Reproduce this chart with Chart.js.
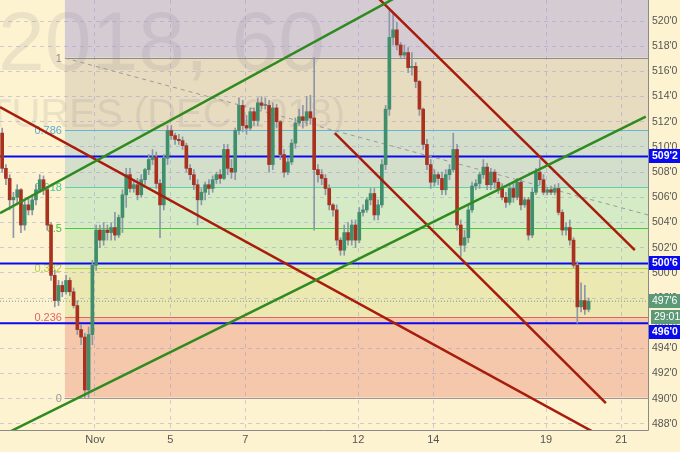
<!DOCTYPE html>
<html>
<head>
<meta charset="utf-8">
<script src="https://cdn.jsdelivr.net/npm/chart.js@4.4.1/dist/chart.umd.min.js"></script>
<style>
  html, body { margin: 0; padding: 0; background: #fdf3d0; }
  #wrap { width: 680px; height: 452px; }
</style>
</head>
<body>
<div id="wrap"><canvas id="c" width="680" height="452"></canvas></div>
<script>
// ---- dati: candele orarie (prezzi in cents) ----
const opens = [
  511.1,508.3,507.5,505.8,506.0,506.6,503.8,505.4,505.0,505.8,
  506.6,507.4,506.6,503.8,499.8,497.8,499.0,498.5,499.4,498.5,
  497.4,495.5,494.9,490.7,495.1,500.6,503.4,502.6,503.4,503.2,
  503.6,503.0,504.4,506.2,507.8,506.7,507.0,506.2,507.4,508.2,
  509.0,509.2,507.1,505.4,509.1,511.3,510.9,510.6,510.5,510.1,
  508.3,507.8,507.0,505.8,506.4,507.0,506.7,507.4,507.8,507.5,
  509.8,508.3,508.0,511.3,513.3,511.7,511.5,512.8,512.1,513.5,
  513.3,513.3,508.6,513.1,512.0,509.4,508.0,508.8,510.3,511.9,
  512.4,512.1,512.8,512.3,508.2,507.8,507.5,506.7,505.4,505.0,
  502.6,501.8,503.2,502.6,503.8,502.6,504.8,505.0,505.8,506.3,
  504.6,505.4,508.6,513.0,518.7,519.3,518.1,517.3,517.5,516.3,
  516.4,515.2,513.0,510.2,508.6,507.2,507.8,507.5,506.6,507.8,
  508.2,509.8,503.8,502.2,502.8,505.0,506.9,507.1,507.8,508.4,
  507.0,508.0,507.2,506.7,506.0,505.6,506.7,506.0,507.2,505.4,
  505.8,503.0,506.4,508.0,507.4,506.4,506.6,506.4,506.7,504.8,
  503.4,503.6,502.6,500.6,497.3,497.8,497.1
];
const highs = [
  511.5,508.6,507.8,506.4,507.0,506.7,505.8,506.0,506.2,507.0,
  507.8,507.7,506.7,504.0,500.2,499.4,499.3,499.8,499.6,498.8,
  497.8,495.9,495.2,495.7,501.0,503.8,503.8,504.0,503.8,504.0,
  504.8,504.6,506.6,508.3,508.3,507.4,507.5,507.8,508.3,509.4,
  509.8,509.6,507.4,509.4,511.7,511.7,511.1,511.0,510.8,510.3,
  508.6,508.2,507.4,506.7,507.2,507.4,507.7,508.0,508.2,510.2,
  510.2,509.0,511.5,513.9,513.7,512.5,513.1,513.1,513.9,514.0,
  513.9,513.7,513.5,513.4,512.1,509.8,509.1,510.6,512.3,513.0,
  513.3,514.0,514.1,517.1,508.6,508.2,507.8,507.0,505.5,505.4,
  502.8,503.8,504.0,504.2,504.2,505.2,505.4,506.0,506.7,506.7,
  505.8,509.0,513.3,520.9,520.7,519.9,518.3,518.1,517.9,517.5,
  516.7,515.3,513.1,510.6,509.0,508.2,508.0,508.0,508.2,508.6,
  511.1,510.2,504.2,503.4,505.4,507.2,507.4,508.0,509.0,508.7,
  508.3,508.2,507.5,507.1,506.4,507.0,507.1,507.5,507.4,506.0,
  506.0,506.7,508.3,509.0,507.8,506.8,506.9,507.0,507.1,505.0,
  504.0,504.2,502.8,500.9,499.2,499.0,498.0
];
const lows = [
  508.0,507.0,505.0,502.8,505.4,503.2,503.4,504.6,504.6,505.4,
  506.4,506.2,503.4,499.4,497.3,497.4,498.1,498.3,498.2,497.2,
  495.1,494.3,490.1,490.1,494.3,500.2,502.0,502.2,502.6,502.6,
  502.6,502.8,503.2,505.2,506.4,506.4,505.8,506.0,507.0,507.8,
  508.6,506.7,502.8,505.0,508.6,510.6,510.2,510.2,509.8,508.0,
  507.4,506.6,503.8,505.4,505.8,506.2,506.4,507.1,507.1,507.4,
  507.8,507.5,507.4,511.0,511.2,511.0,511.3,511.7,511.7,513.0,
  513.0,508.0,508.2,511.5,509.0,507.6,507.8,508.6,509.9,511.7,
  511.5,511.7,511.8,503.4,507.2,507.0,506.2,505.0,504.5,502.2,
  501.4,501.4,502.2,502.2,502.0,502.4,504.5,504.8,505.4,504.2,
  504.2,505.2,508.2,512.5,518.1,517.7,517.1,517.1,515.9,515.7,
  514.7,512.5,509.8,508.2,506.7,506.9,507.0,506.2,506.2,507.4,
  508.0,503.4,501.3,501.7,502.4,504.8,506.6,506.7,507.5,506.6,
  506.6,506.7,506.3,505.8,505.2,505.4,505.6,505.8,505.0,505.2,
  502.6,502.8,506.2,507.0,506.2,506.2,506.2,506.2,504.6,503.0,
  503.0,502.2,500.4,496.0,496.9,496.7,496.9
];
const closes = [
  508.3,507.5,505.8,506.0,506.6,503.8,505.4,505.0,505.8,506.6,
  507.4,506.6,503.8,499.8,497.8,499.0,498.5,499.4,498.5,497.4,
  495.5,494.9,490.7,495.1,500.6,503.4,502.6,503.4,503.2,503.6,
  503.0,504.4,506.2,507.8,506.7,507.0,506.2,507.4,508.2,509.0,
  509.2,507.1,505.4,509.1,511.3,510.9,510.6,510.5,510.1,508.3,
  507.8,507.0,505.8,506.4,507.0,506.7,507.4,507.8,507.5,509.8,
  508.3,508.0,511.3,513.3,511.7,511.5,512.8,512.1,513.5,513.3,
  513.3,508.6,513.1,512.0,509.4,508.0,508.8,510.3,511.9,512.4,
  512.1,512.8,512.3,508.2,507.8,507.5,506.7,505.4,505.0,502.6,
  501.8,503.2,502.6,503.8,502.6,504.8,505.0,505.8,506.3,504.6,
  505.4,508.6,513.0,518.7,519.3,518.1,517.3,517.5,516.3,516.4,
  515.2,513.0,510.2,508.6,507.2,507.8,507.5,506.6,507.8,508.2,
  509.8,503.8,502.2,502.8,505.0,506.9,507.1,507.8,508.4,507.0,
  508.0,507.2,506.7,506.0,505.6,506.7,506.0,507.2,505.4,505.8,
  503.0,506.4,508.0,507.4,506.4,506.6,506.4,506.7,504.8,503.4,
  503.6,502.6,500.6,497.3,497.8,497.1,497.75
];

// asse tempo in giorni di contrattazione (0 = 1 Nov)
const FIRST_BAR = -2.47, BARS_PER_DAY = 10;
const dayTicks  = [0, 2, 4, 7, 9, 12, 14];
const dayLabels = ['Nov', '5', '7', '12', '14', '19', '21'];
const X_MIN = -2.527, X_MAX = 14.71, Y_MIN = 487.52, Y_MAX = 521.67;

// Fibonacci (minimo / massimo)
const FIB_START = -0.8, fibLow = 490.1, fibHigh = 517.1;
const fibRatios = [0, 0.236, 0.382, 0.5, 0.618, 0.786, 1, 1.618];
const fibText   = ['0', '0.236', '0.382', '0.5', '0.618', '0.786', '1', ''];

// livelli orizzontali e prezzo corrente
const levels = [509.25, 500.75, 496.0];
const lastPrice = 497.75, countdown = '29:01';

// trendline: [giorno, prezzo] -> [giorno, prezzo]
const greenLines = [
  [[-2.527, 504.75], [8.11, 522.04]],
  [[-2.527, 487.0], [14.65, 512.4]]
];
const redLines = [
  [[-2.527, 513.17], [13.43, 487.08]],
  [[7.45, 522.07], [14.36, 501.81]],
  [[6.38, 511.1], [13.59, 489.66]]
];
const fibDiag = [[-0.8, 517.06], [14.71, 504.6]];

const WM1 = '2018, 60', WM2 = 'FUTURES (DEC 2018)';

// ---- stile ----
const BG = '#fdf3d0', BLUE = '#0a0aee', GREEN_BOX = '#5c9a77';
const zoneColors = ['#f5c8ab', '#ece8b2', '#dcebbc', '#d5ebc5', '#d4dfcb', '#e8dcc0', '#d5ccd3'];
const lineColors = ['#999999', '#e06666', '#b0d840', '#40cc40', '#60d0a8', '#66b5d5', '#8c8c8c', '#8c8c8c'];
const textColors = ['#999999', '#e06666', '#b0d040', '#40c040', '#45c898', '#5aaed6', '#8c8c8c', '#8c8c8c'];
const UP = '#3f8f6c', DOWN = '#a8321f', WICK = '#8e96a8';

const fibPrice = r => fibLow + r * (fibHigh - fibLow);
const fmt = v => { const w = Math.floor(v + 1e-9); return `${w}'${Math.round((v - w) * 8)}`; };
const times = closes.map((_, i) => FIRST_BAR + i / BARS_PER_DAY);
const seg = (p, color, extra) => ({
  type: 'line', data: p.map(([x, y]) => ({ x, y })), borderColor: color, borderWidth: 2.5,
  pointRadius: 0, clip: 0, order: 0, ...extra
});

const deco = {
  id: 'deco',
  beforeDraw(chart) {
    const { ctx, chartArea: a, scales: { x, y } } = chart;
    ctx.save();
    ctx.fillStyle = BG; ctx.fillRect(0, 0, chart.width, chart.height);
    ctx.beginPath(); ctx.rect(a.left, a.top, a.right - a.left, a.bottom - a.top); ctx.clip();
    const x0 = x.getPixelForValue(FIB_START);
    for (let i = 0; i < fibRatios.length - 1; i++) {
      const y1 = y.getPixelForValue(fibPrice(fibRatios[i])), y2 = y.getPixelForValue(fibPrice(fibRatios[i + 1]));
      ctx.fillStyle = zoneColors[i]; ctx.fillRect(x0, y2, a.right - x0, y1 - y2);
    }
    ctx.fillStyle = 'rgba(105,95,120,0.12)';
    ctx.textAlign = 'right'; ctx.textBaseline = 'alphabetic';
    ctx.font = '84px "Liberation Sans"'; ctx.fillText(WM1, 325, 70);
    ctx.font = '40px "Liberation Sans"'; ctx.fillText(WM2, 345, 127);
    ctx.restore();
  },
  beforeDatasetsDraw(chart) {
    const { ctx, chartArea: a, scales: { x, y } } = chart;
    const x0 = x.getPixelForValue(FIB_START);
    ctx.save();
    ctx.font = '11px "Liberation Sans"'; ctx.textAlign = 'right'; ctx.textBaseline = 'middle';
    fibRatios.forEach((r, i) => {
      const yp = Math.round(y.getPixelForValue(fibPrice(r))) + 0.5;
      if (yp < a.top) return;
      ctx.strokeStyle = lineColors[i]; ctx.lineWidth = 1;
      ctx.beginPath(); ctx.moveTo(x0, yp); ctx.lineTo(a.right, yp); ctx.stroke();
      ctx.fillStyle = textColors[i]; ctx.fillText(fibText[i], x0 - 3, yp);
    });
    ctx.restore();
  },
  afterDraw(chart) {
    const { ctx, chartArea: a, scales: { y } } = chart;
    ctx.save();
    ctx.strokeStyle = '#8a8a8a'; ctx.lineWidth = 1;
    ctx.beginPath();
    ctx.moveTo(0, a.bottom + 0.5); ctx.lineTo(a.right + 0.5, a.bottom + 0.5);
    ctx.moveTo(a.right + 0.5, 0); ctx.lineTo(a.right + 0.5, a.bottom + 0.5);
    ctx.stroke();
    const W = chart.width - a.right - 1;
    const box = (top, txt, col, bold, inset) => {
      ctx.fillStyle = col; ctx.fillRect(a.right + 1 + inset, top, W - inset, 14);
      ctx.fillStyle = '#fff'; ctx.font = (bold ? 'bold ' : '') + '10.5px "Liberation Sans"';
      ctx.textAlign = 'left'; ctx.textBaseline = 'middle';
      ctx.fillText(txt, a.right + 4 + inset, top + 7.5);
    };
    // prezzo corrente + countdown, poi i livelli (spinti sotto se si sovrappongono)
    const lastTop = Math.round(y.getPixelForValue(lastPrice)) - 7;
    box(lastTop, fmt(lastPrice), GREEN_BOX, false, 0);
    box(lastTop + 16, countdown, GREEN_BOX, false, 2);
    const busyBottom = lastTop + 30;
    levels.forEach(v => {
      let top = Math.round(y.getPixelForValue(v)) - 7;
      if (top < busyBottom && top + 14 > lastTop) top = busyBottom + 1;
      box(top, fmt(v), BLUE, true, 0);
    });
    ctx.restore();
  }
};

new Chart(document.getElementById('c'), {
  type: 'bar',
  data: {
    datasets: [
      ...greenLines.map(p => seg(p, '#2f8a1f')),
      ...redLines.map(p => seg(p, '#a81c0c')),
      seg(fibDiag, '#9a9a9a', { borderWidth: 1, borderDash: [4, 4], order: 5 }),
      ...levels.map(v => seg([[X_MIN, v], [X_MAX, v]], BLUE, { borderWidth: 2, order: 5 })),
      seg([[X_MIN, lastPrice], [X_MAX, lastPrice]], '#6f9c7f', { borderWidth: 1, borderDash: [1, 2], order: 5 }),
      {
        type: 'bar', order: 3, grouped: false, barThickness: 1, backgroundColor: WICK,
        data: times.map((t, i) => ({ x: t, y: [lows[i], highs[i]] }))
      },
      {
        type: 'bar', order: 2, grouped: false, barThickness: 3, minBarLength: 1,
        backgroundColor: closes.map((c, i) => c >= opens[i] ? UP : DOWN),
        data: times.map((t, i) => ({ x: t, y: [opens[i], closes[i]] }))
      }
    ]
  },
  options: {
    responsive: false, animation: false, devicePixelRatio: 1, events: [],
    layout: { padding: 0 },
    plugins: { legend: { display: false }, tooltip: { enabled: false } },
    scales: {
      x: {
        type: 'linear', min: X_MIN, max: X_MAX, offset: false,
        afterBuildTicks: s => { s.ticks = dayTicks.map(v => ({ value: v })); },
        afterFit: s => { s.height = 22; s.paddingLeft = 0; s.paddingRight = 0; },
        ticks: {
          autoSkip: false, maxRotation: 0, padding: 3, color: '#555',
          font: { family: 'Liberation Sans', size: 11 },
          callback: v => dayLabels[dayTicks.indexOf(v)]
        },
        grid: { color: 'rgba(150,150,210,0.45)', drawTicks: false, offset: false },
        border: { display: false, dash: [4, 4] }
      },
      y: {
        type: 'linear', position: 'right', min: Y_MIN, max: Y_MAX,
        afterFit: s => { s.width = 32; s.paddingTop = 0; s.paddingBottom = 0; },
        ticks: {
          stepSize: 2, includeBounds: false, padding: 4, color: '#555',
          font: { family: 'Liberation Sans', size: 10.5 },
          callback: v => fmt(v)
        },
        grid: { color: 'rgba(150,150,210,0.45)', drawTicks: false },
        border: { display: false, dash: [4, 4] }
      }
    }
  },
  plugins: [deco]
});
</script>
</body>
</html>
